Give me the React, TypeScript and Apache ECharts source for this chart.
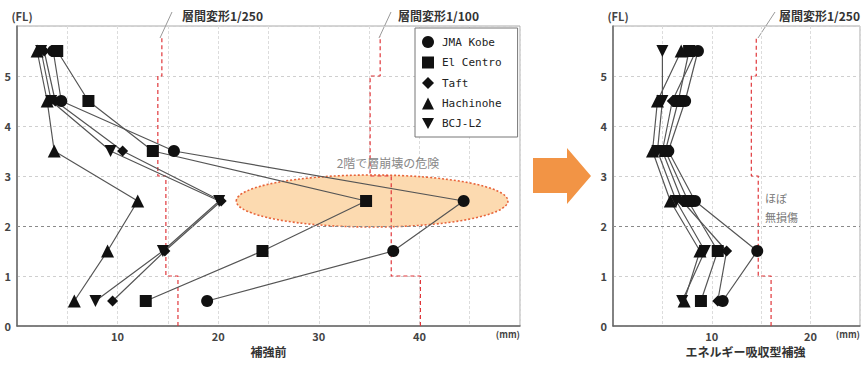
import React, { useEffect, useRef } from "react";
import * as echarts from "echarts";

// floor levels (FL) where story drifts are plotted
const floors = [0.5, 1.5, 2.5, 3.5, 4.5, 5.5];
const seriesNames = ["JMA Kobe", "El Centro", "Taft", "Hachinohe", "BCJ-L2"];

// Left chart: 補強前 (mm)
const beforeJMA = [18.9, 37.4, 44.4, 15.6, 4.4, 3.6];
const beforeElCentro = [12.8, 24.4, 34.7, 13.5, 7.1, 4.0];
const beforeTaft = [9.5, 14.7, 20.3, 10.5, 3.8, 2.7];
const beforeHachinohe = [5.7, 9.0, 12.0, 3.7, 3.0, 2.0];
const beforeBCJ = [7.8, 14.5, 20.1, 9.3, 3.4, 2.4];

// Right chart: エネルギー吸収型補強 (mm)
const afterJMA = [11.1, 14.6, 8.3, 5.6, 7.3, 8.6];
const afterElCentro = [8.9, 10.6, 7.6, 5.3, 6.6, 7.7];
const afterTaft = [10.6, 11.5, 7.0, 5.0, 6.0, 8.4];
const afterHachinohe = [7.2, 8.8, 5.8, 4.0, 4.5, 6.9];
const afterBCJ = [7.0, 9.3, 6.4, 4.5, 5.0, 5.0];

// Drift limit step lines
const limitY = [0, 1, 1, 3, 3, 5, 5, 5.8];
const left250X = [16.0, 16.0, 14.8, 14.8, 14.0, 14.0, 14.4, 14.4];
const left100X = [40.1, 40.1, 37.2, 37.2, 35.1, 35.1, 36.1, 36.1];
const right250X = [16.0, 16.0, 14.7, 14.7, 14.0, 14.0, 14.5, 14.5];

// Highlight ellipse (center x, center y, radius x, radius y) in data units
const ellipseData = [35.3, 2.5, 13.5, 0.52];

const leftXMax = 50;
const rightXMax = 25;

const symbols = ["circle", "rect", "diamond", "triangle", "path://M0,0L10,0L5,9Z"];
const symbolSizes = [12, 12, 11, 13, 12];

const FONT = '"Noto Sans CJK JP", "Noto Sans", sans-serif';

export default function App() {
  const ref = useRef<HTMLDivElement>(null);
  useEffect(() => {
    if (!ref.current) return;
    const chart = echarts.init(ref.current, undefined, { renderer: "svg" });
    const before = [beforeJMA, beforeElCentro, beforeTaft, beforeHachinohe, beforeBCJ];
    const after = [afterJMA, afterElCentro, afterTaft, afterHachinohe, afterBCJ];
    const zip = (xs: number[], ys: number[]) => xs.map((x, i) => [x, ys[i]]);

    const makeX = (idx: number, max: number, name: string, nameCenterShift: number) => ({
      type: "value",
      gridIndex: idx,
      min: 0,
      max,
      interval: 5,
      name,
      nameLocation: "middle",
      nameGap: 19,
      nameTextStyle: { fontSize: 12, fontWeight: "bold", color: "#333", padding: [0, 0, 0, nameCenterShift] },
      axisLine: { show: true, lineStyle: { color: "#666", width: 1.5 } },
      axisTick: { show: false },
      axisLabel: {
        margin: 4,
        fontSize: 11,
        color: "#444",
        fontWeight: "bold",
        showMaxLabel: true,
        alignMaxLabel: "right",
        formatter: (v: number) => {
          if (v === max) return "{u|(mm)}";
          if (v > 0 && v % 10 === 0) return String(v);
          return "";
        },
        rich: { u: { fontSize: 9, color: "#444", fontWeight: "bold", padding: [0, 0, 4, 0] } },
      },
      splitLine: { show: true, lineStyle: { color: "#dcdcdc", width: 1, type: [3, 2] } },
    });

    const makeY = (idx: number) => ({
      type: "value",
      gridIndex: idx,
      min: 0,
      max: 6,
      interval: 1,
      name: "(FL)",
      nameLocation: "end",
      nameGap: 5,
      nameTextStyle: { fontSize: 11, color: "#444", fontWeight: "bold", padding: [0, 0, 0, 10] },
      axisLine: { show: true, lineStyle: { color: "#666", width: 1.5 } },
      axisTick: { show: false },
      axisLabel: {
        margin: 6,
        fontSize: 11,
        color: "#444",
        fontWeight: "bold",
        formatter: (v: number) => (v < 6 ? String(v) : ""),
      },
      splitLine: { show: true, lineStyle: { color: "#cfcfcf", width: 1, type: [3, 3] } },
    });

    const dataSeries: any[] = [];
    [before, after].forEach((set, gi) => {
      set.forEach((vals, i) => {
        dataSeries.push({
          type: "line",
          name: seriesNames[i],
          xAxisIndex: gi,
          yAxisIndex: gi,
          data: zip(vals, floors),
          symbol: symbols[i],
          symbolSize: symbolSizes[i],
          z: 4,
          itemStyle: { color: "#111" },
          lineStyle: { color: "#555", width: 1.2 },
          silent: true,
        });
      });
    });

    const limitSeries = (xs: number[], gi: number, withMark: boolean) => ({
      type: "line",
      name: "limit",
      xAxisIndex: gi,
      yAxisIndex: gi,
      data: zip(xs, limitY),
      symbol: "none",
      z: 3,
      silent: true,
      lineStyle: { color: "#e0363a", width: 1.2, type: [4, 3] },
      markLine: withMark
        ? {
            silent: true,
            symbol: "none",
            label: { show: false },
            lineStyle: { color: "#8a8a8a", width: 1, type: [3, 3] },
            data: [{ yAxis: 2 }],
          }
        : undefined,
    });

    const option: any = {
      animation: false,
      textStyle: { fontFamily: FONT },
      grid: [
        { left: 17, top: 26, width: 503, height: 300, show: true, borderColor: "#aaa", borderWidth: 1 },
        { left: 613, top: 26, width: 250, height: 300, show: true, borderColor: "#aaa", borderWidth: 1 },
      ],
      xAxis: [makeX(0, leftXMax, "補強前", 0), makeX(1, rightXMax, "エネルギー吸収型補強", 18)],
      yAxis: [makeY(0), makeY(1)],
      legend: {
        data: seriesNames.map((n, i) => ({ name: n, icon: symbols[i] })),
        orient: "vertical",
        left: 415,
        top: 28,
        backgroundColor: "#fff",
        borderColor: "#777",
        borderWidth: 1,
        padding: [8, 16, 8, 7],
        itemGap: 8.5,
        itemWidth: 12,
        itemHeight: 12,
        selectedMode: false,
        textStyle: { fontFamily: '"DejaVu Sans Mono", monospace', fontSize: 11, color: "#222", padding: [0, 0, 0, 3] },
        z: 10,
      },
      series: [
        {
          type: "custom",
          name: "ellipse",
          xAxisIndex: 0,
          yAxisIndex: 0,
          z: 1,
          silent: true,
          data: [ellipseData],
          renderItem: (_p: any, api: any) => {
            const c = api.coord([api.value(0), api.value(1)]);
            const s = api.size([api.value(2), api.value(3)]);
            return {
              type: "ellipse",
              shape: { cx: c[0], cy: c[1], rx: s[0], ry: s[1] },
              style: { fill: "#fcdab0", stroke: "#e8643a", lineWidth: 1.6, lineDash: [2, 2] },
            };
          },
        },
        limitSeries(left250X, 0, true),
        limitSeries(left100X, 0, false),
        limitSeries(right250X, 1, true),
        ...dataSeries,
      ],
      graphic: [
        { type: "line", shape: { x1: 160, y1: 38, x2: 172, y2: 12 }, style: { stroke: "#999", lineWidth: 1 } },
        { type: "line", shape: { x1: 379, y1: 38, x2: 391, y2: 12 }, style: { stroke: "#999", lineWidth: 1 } },
        { type: "line", shape: { x1: 758, y1: 38, x2: 775, y2: 12 }, style: { stroke: "#999", lineWidth: 1 } },
        { type: "text", x: 182, y: 15, style: { text: "層間変形1/250", font: `bold 12px ${FONT}`, fill: "#333", verticalAlign: "middle" } },
        { type: "text", x: 398, y: 15, style: { text: "層間変形1/100", font: `bold 12px ${FONT}`, fill: "#333", verticalAlign: "middle" } },
        { type: "text", x: 779, y: 15, style: { text: "層間変形1/250", font: `bold 12px ${FONT}`, fill: "#333", verticalAlign: "middle" } },
        { type: "text", x: 388, y: 162, z: 5, style: { text: "2階で層崩壊の危険", font: `12px ${FONT}`, fill: "#888", align: "center", verticalAlign: "middle" } },
        { type: "text", x: 765, y: 198, z: 5, style: { text: "ほぼ", font: `11px ${FONT}`, fill: "#777", verticalAlign: "middle" } },
        { type: "text", x: 765, y: 217, z: 5, style: { text: "無損傷", font: `11px ${FONT}`, fill: "#777", verticalAlign: "middle" } },
        {
          type: "polygon",
          z: 5,
          shape: { points: [[533, 158], [567, 158], [567, 148], [591, 176], [567, 204], [567, 193], [533, 193]] },
          style: { fill: "#f29445" },
        },
      ],
    };
    chart.setOption(option);
    return () => chart.dispose();
  }, []);
  return (
    <div
      ref={ref}
      style={{ position: "fixed", left: 0, top: 0, width: 863, height: 365, background: "#fff" }}
    />
  );
}
